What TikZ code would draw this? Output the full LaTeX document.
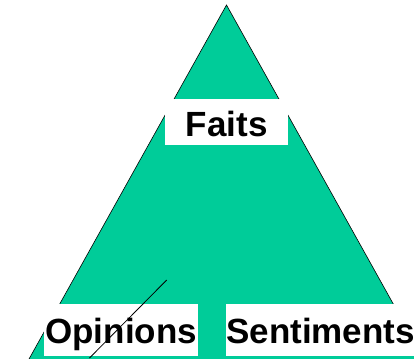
\documentclass[tikz,border=0pt]{standalone}
\usepackage{fontspec}
\setmainfont{Liberation Sans}
\definecolor{pyrgreen}{HTML}{00CC99}
\tikzset{
  labelbox/.style={fill=white, draw=none, inner sep=0pt, anchor=north west,
    font=\fontsize{35}{40}\selectfont\bfseries, align=center}
}
\begin{document}
\begin{tikzpicture}[x=1pt,y=-1pt]
\useasboundingbox (0,0) rectangle (414,358);
\begin{scope}
\clip (0,0) rectangle (414,358);
\coordinate (apex) at (226.5,5);
\coordinate (bl) at (-5,420);
\coordinate (br) at (458,420);
\fill[pyrgreen] (apex) -- (bl) -- (br) -- cycle;
\draw[line width=0.6pt] (bl) -- (apex) -- (br);
\node[labelbox, minimum width=123pt, text height=37pt, text depth=9pt] (faits) at (165,99) {Faits};
\node[labelbox, minimum width=154pt, text height=39pt, text depth=13pt] (opinions) at (44,304) {Opinions};
\node[labelbox, minimum width=183pt, text height=39pt, text depth=13pt] (sentiments) at (226,304) {Sentiments};
\coordinate (lineA) at (166.7,280);
\coordinate (lineB) at (89.5,358);
\draw[line width=0.8pt] (lineA) -- (lineB);
\end{scope}
\end{tikzpicture}
\end{document}
